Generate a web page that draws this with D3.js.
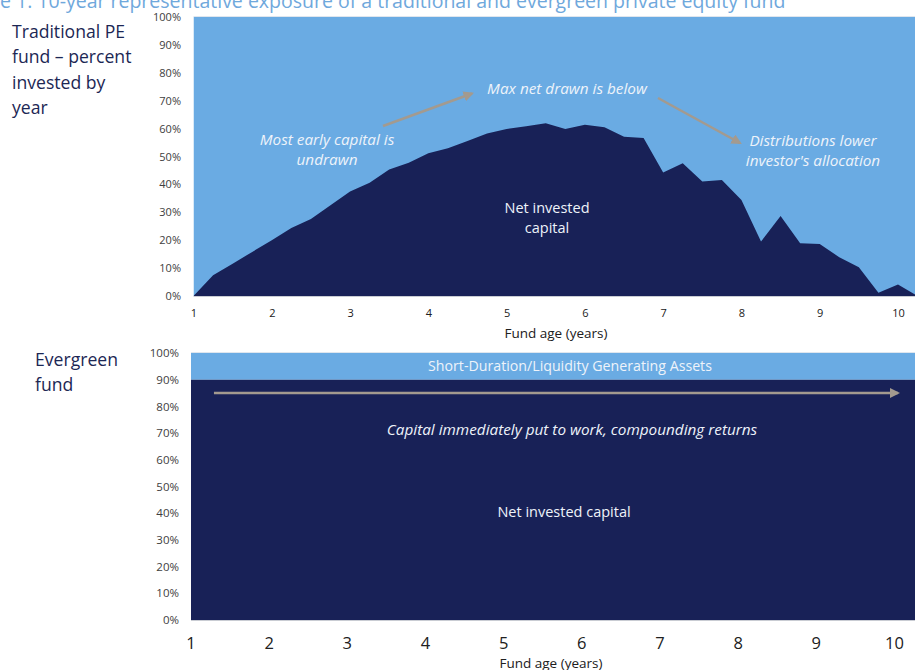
<!DOCTYPE html>
<html>
<head>
<meta charset="utf-8">
<script src="https://cdn.jsdelivr.net/npm/d3@7/dist/d3.min.js"></script>
<style>
  html, body { margin: 0; padding: 0; background: #ffffff; }
  svg { display: block; font-family: "Open Sans", "Noto Sans", sans-serif; }
</style>
</head>
<body>
<svg id="chart" width="915" height="670"></svg>
<script>
// ---- Data -------------------------------------------------------------
const titleText = "Figure 1: 10-year representative exposure of a traditional and evergreen private equity fund";

// Traditional PE fund: quarterly fund age and share of commitment invested
const fundAge = [1.0, 1.25, 1.5, 1.75, 2.0, 2.25, 2.5, 2.75, 3.0, 3.25, 3.5, 3.75,
                 4.0, 4.25, 4.5, 4.75, 5.0, 5.25, 5.5, 5.75, 6.0, 6.25, 6.5, 6.75,
                 7.0, 7.25, 7.5, 7.75, 8.0, 8.25, 8.5, 8.75, 9.0, 9.25, 9.5, 9.75,
                 10.0, 10.25];
const netInvested = [0.0, 7.4, 11.6, 15.8, 20.0, 24.4, 27.6, 32.5, 37.5, 40.6, 45.3, 47.8,
                     51.2, 53.0, 55.6, 58.2, 59.9, 60.8, 61.9, 59.9, 61.4, 60.5, 57.1, 56.6,
                     44.3, 47.6, 41.0, 41.6, 34.4, 19.5, 28.7, 18.9, 18.6, 13.9, 10.3, 1.2,
                     4.1, 0.0];

// Evergreen fund: constant split between invested capital and liquid assets
const evergreenAge = [1.0, 10.3];
const evergreenInvested = [90, 90];
const evergreenLiquid = [10, 10];

const yearTicks = [1, 2, 3, 4, 5, 6, 7, 8, 9, 10];
const pctTicks = [0, 10, 20, 30, 40, 50, 60, 70, 80, 90, 100];

const topLabelLines = ["Traditional PE", "fund \u2013 percent", "invested by", "year"];
const bottomLabelLines = ["Evergreen", "fund"];

// ---- Styling ----------------------------------------------------------
const NAVY = "#182157";
const SKY = "#6aabe3";
const ARROW = "#a39a8f";
const TICK = "#404040";
const TITLE = "#6fa8dc";
const NOTE = "#eef3fa";
const ITALIC_SIZE = 15.3;

const svg = d3.select("#chart");

svg.append("defs").append("marker")
  .attr("id", "head")
  .attr("viewBox", "0 0 10 10")
  .attr("refX", 8).attr("refY", 5)
  .attr("markerWidth", 4.2).attr("markerHeight", 4.2)
  .attr("orient", "auto")
  .append("path").attr("d", "M0,0 L10,5 L0,10 Z").attr("fill", ARROW);

// ---- Title (runs off the left edge) ---------------------------------
const TITLE_SIZE = 19.5;
const title = svg.append("text")
  .attr("y", 8)
  .attr("font-size", TITLE_SIZE)
  .attr("fill", TITLE)
  .text(titleText);
const probe = svg.append("text").attr("font-size", TITLE_SIZE).text("Figur");
const lead = probe.node().getComputedTextLength();
probe.remove();
title.attr("x", -lead);

// ---- Top panel: traditional PE fund -----------------------------------
const xT = d3.scaleLinear().domain([1, 10]).range([193.5, 898]);
const yT = d3.scaleLinear().domain([0, 100]).range([296, 17]);
const topPts = fundAge.map((a, i) => ({ a, v: netInvested[i] }));

const topG = svg.append("g");
topG.append("clipPath").attr("id", "clipTop")
  .append("rect").attr("x", xT(1)).attr("y", yT(100))
  .attr("width", 915 - xT(1)).attr("height", yT(0) - yT(100));

const plotTop = topG.append("g").attr("clip-path", "url(#clipTop)");
plotTop.append("path")
  .datum(topPts)
  .attr("fill", SKY)
  .attr("d", d3.area().x(d => xT(d.a)).y0(yT(0)).y1(yT(100)));
plotTop.append("path")
  .datum(topPts)
  .attr("fill", NAVY)
  .attr("d", d3.area().x(d => xT(d.a)).y0(yT(0)).y1(d => yT(d.v)));

topG.append("line")
  .attr("x1", xT(1)).attr("x2", 915).attr("y1", yT(100) - 0.5).attr("y2", yT(100) - 0.5)
  .attr("stroke", "#dfe6ee").attr("stroke-width", 1);
topG.append("line")
  .attr("x1", xT(1)).attr("x2", 915).attr("y1", yT(0) + 0.5).attr("y2", yT(0) + 0.5)
  .attr("stroke", "#c9ccd3").attr("stroke-width", 1);

// y axis labels
topG.append("g")
  .attr("transform", `translate(${181},0)`)
  .call(d3.axisLeft(yT).tickValues(pctTicks).tickSize(0).tickPadding(0)
        .tickFormat(d => d + "%"))
  .call(g => g.select(".domain").remove())
  .call(g => g.selectAll("text").attr("font-size", 11).attr("fill", TICK)
        .attr("font-family", "'Open Sans', sans-serif"));

// x axis labels
topG.append("g")
  .attr("transform", `translate(0,${309})`)
  .call(d3.axisBottom(xT).tickValues(yearTicks).tickSize(0).tickPadding(0)
        .tickFormat(d3.format("d")))
  .call(g => g.select(".domain").remove())
  .call(g => g.selectAll("text").attr("font-size", 11).attr("fill", "#202020")
        .attr("font-family", "'Open Sans', sans-serif"));

topG.append("text")
  .attr("x", 556).attr("y", 338)
  .attr("text-anchor", "middle").attr("font-size", 13.5).attr("fill", "#202020")
  .text("Fund age (years)");

// annotations
const noteTop = (x, y, lines, italic) => {
  const t = topG.append("text")
    .attr("text-anchor", "middle").attr("font-size", italic ? ITALIC_SIZE : 14.5)
    .attr("fill", NOTE).attr("font-style", italic ? "italic" : "normal");
  lines.forEach((s, i) => t.append("tspan").attr("x", x).attr("y", y + i * 19.5).text(s));
};
noteTop(327, 145, ["Most early capital is", "undrawn"], true);
noteTop(567, 94, ["Max net drawn is below"], true);
noteTop(813, 146, ["Distributions lower", "investor's allocation"], true);
noteTop(547, 213, ["Net invested", "capital"], false);

topG.append("line")
  .attr("x1", 383).attr("y1", 126).attr("x2", 472).attr("y2", 93.5)
  .attr("stroke", ARROW).attr("stroke-width", 2.5).attr("marker-end", "url(#head)");
topG.append("line")
  .attr("x1", 658).attr("y1", 98).attr("x2", 740).attr("y2", 143)
  .attr("stroke", ARROW).attr("stroke-width", 2.5).attr("marker-end", "url(#head)");

// side label
const sideTop = svg.append("text").attr("font-size", 17.6).attr("fill", "#1c2754");
topLabelLines.forEach((s, i) => sideTop.append("tspan").attr("x", 12).attr("y", 38 + i * 25.3).text(s));

// ---- Bottom panel: evergreen fund -------------------------------------
const xB = d3.scaleLinear().domain([1, 10]).range([190.5, 894]);
const yB = d3.scaleLinear().domain([0, 100]).range([620, 353]);
const botPts = evergreenAge.map((a, i) => ({ a, inv: evergreenInvested[i], liq: evergreenLiquid[i] }));

const botG = svg.append("g");
botG.append("clipPath").attr("id", "clipBot")
  .append("rect").attr("x", 191).attr("y", yB(100))
  .attr("width", 915 - 191).attr("height", yB(0) - yB(100));
const plotBot = botG.append("g").attr("clip-path", "url(#clipBot)");
plotBot.append("path").datum(botPts).attr("fill", SKY)
  .attr("d", d3.area().x(d => Math.max(191, xB(d.a))).y0(d => yB(d.inv)).y1(d => yB(d.inv + d.liq)));
plotBot.append("path").datum(botPts).attr("fill", NAVY)
  .attr("d", d3.area().x(d => Math.max(191, xB(d.a))).y0(yB(0)).y1(d => yB(d.inv)));

botG.append("line")
  .attr("x1", 191).attr("x2", 915).attr("y1", yB(100) - 0.5).attr("y2", yB(100) - 0.5)
  .attr("stroke", "#dfe6ee").attr("stroke-width", 1);
botG.append("line")
  .attr("x1", 191).attr("x2", 915).attr("y1", yB(0) + 0.5).attr("y2", yB(0) + 0.5)
  .attr("stroke", "#c9ccd3").attr("stroke-width", 1);

botG.append("g")
  .attr("transform", `translate(${179},0)`)
  .call(d3.axisLeft(yB).tickValues(pctTicks).tickSize(0).tickPadding(0)
        .tickFormat(d => d + "%"))
  .call(g => g.select(".domain").remove())
  .call(g => g.selectAll("text").attr("font-size", 11.5).attr("fill", TICK)
        .attr("font-family", "'Open Sans', sans-serif"));

botG.append("g")
  .attr("transform", `translate(0,${637})`)
  .call(d3.axisBottom(xB).tickValues(yearTicks).tickSize(0).tickPadding(0)
        .tickFormat(d3.format("d")))
  .call(g => g.select(".domain").remove())
  .call(g => g.selectAll("text").attr("font-size", 16.5).attr("fill", "#202020")
        .attr("font-family", "'Open Sans', sans-serif"));

botG.append("text")
  .attr("x", 551).attr("y", 668)
  .attr("text-anchor", "middle").attr("font-size", 13.5).attr("fill", "#202020")
  .text("Fund age (years)");

botG.append("text")
  .attr("x", 570).attr("y", 371).attr("text-anchor", "middle")
  .attr("font-size", 14.2).attr("fill", NOTE)
  .text("Short-Duration/Liquidity Generating Assets");

botG.append("line")
  .attr("x1", xB(1.3)).attr("x2", xB(10.05)).attr("y1", 393).attr("y2", 393)
  .attr("stroke", ARROW).attr("stroke-width", 2.5).attr("marker-end", "url(#head)");

botG.append("text")
  .attr("x", 572).attr("y", 435).attr("text-anchor", "middle")
  .attr("font-size", ITALIC_SIZE).attr("font-style", "italic").attr("fill", NOTE)
  .text("Capital immediately put to work, compounding returns");

botG.append("text")
  .attr("x", 564).attr("y", 517).attr("text-anchor", "middle")
  .attr("font-size", 14.5).attr("fill", NOTE)
  .text("Net invested capital");

const sideBot = svg.append("text").attr("font-size", 17.6).attr("fill", "#1c2754");
bottomLabelLines.forEach((s, i) => sideBot.append("tspan").attr("x", 35).attr("y", 366 + i * 24.5).text(s));
</script>
</body>
</html>
